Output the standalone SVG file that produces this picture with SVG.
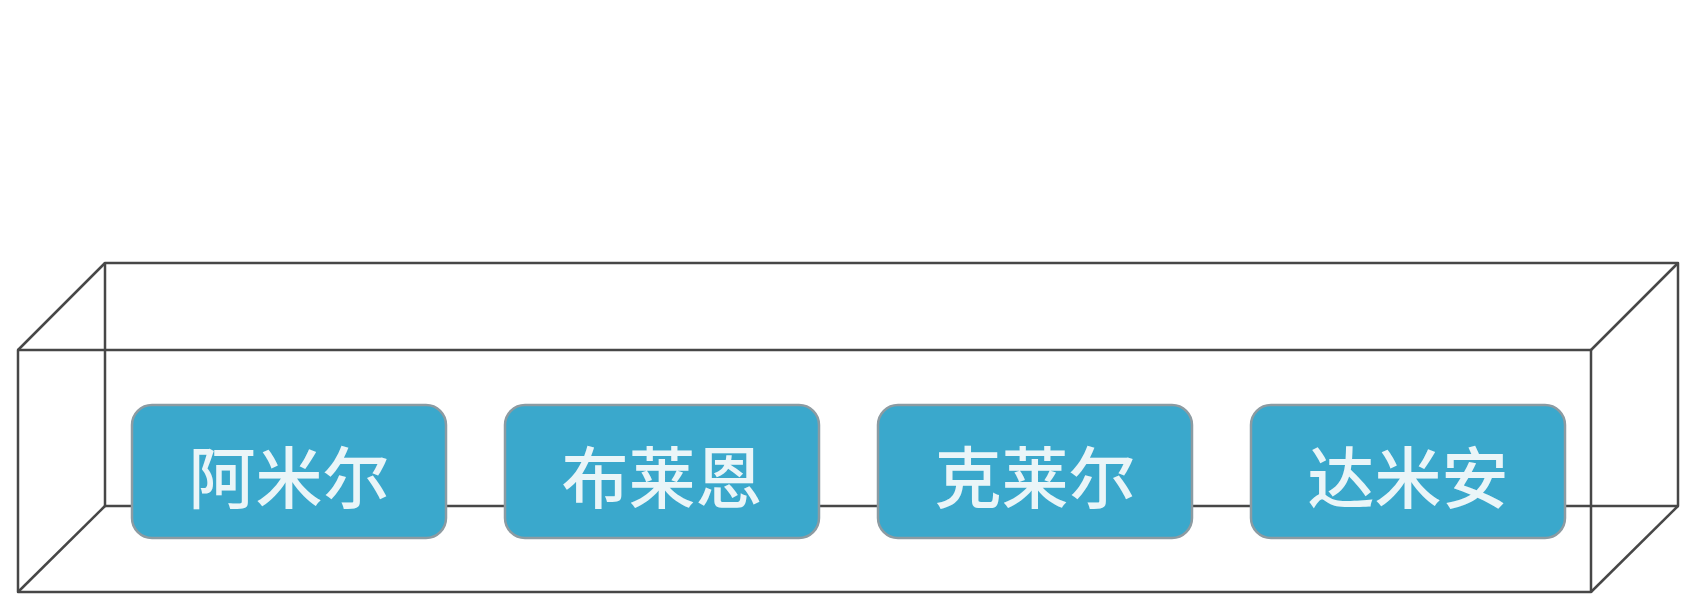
<svg xmlns="http://www.w3.org/2000/svg" width="1703" height="608" viewBox="0 0 1703 608">
<style>
.edge{fill:none;stroke:#474747;stroke-width:2.5;stroke-linejoin:round}
.box{fill:#3aa8cc;stroke:#8c9ba2;stroke-width:2.5}
.lbl{font-family:"Noto Sans CJK SC","Noto Sans CJK TC",sans-serif;font-size:67px;font-weight:500;fill:#eaf5f8;text-anchor:middle;dominant-baseline:central}
</style>
<rect width="1703" height="608" fill="#ffffff"/>
<g id="connectors">
<rect class="edge" x="105" y="263" width="1573" height="243"/>
<rect class="edge" x="18" y="350" width="1573" height="242"/>
<line class="edge" x1="18" y1="350" x2="105" y2="263"/>
<line class="edge" x1="1591" y1="350" x2="1678" y2="263"/>
<line class="edge" x1="18" y1="592" x2="105" y2="506"/>
<line class="edge" x1="1591" y1="592" x2="1678" y2="506"/>
</g>
<g id="node-amir">
<rect class="box" x="132" y="405" width="314" height="133" rx="20"/>
<text class="lbl" x="289" y="473">阿米尔</text>
</g>
<g id="node-blain">
<rect class="box" x="505" y="405" width="314" height="133" rx="20"/>
<text class="lbl" x="662" y="473">布莱恩</text>
</g>
<g id="node-claire">
<rect class="box" x="878" y="405" width="314" height="133" rx="20"/>
<text class="lbl" x="1035" y="473">克莱尔</text>
</g>
<g id="node-damian">
<rect class="box" x="1251" y="405" width="314" height="133" rx="20"/>
<text class="lbl" x="1408" y="473">达米安</text>
</g>
</svg>
